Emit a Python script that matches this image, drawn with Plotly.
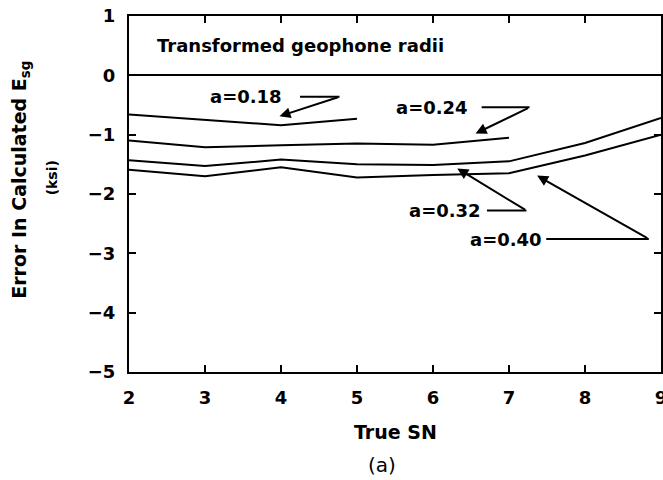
import plotly.graph_objects as go

# data
sn_018 = [2, 3, 4, 5]
err_018 = [-0.66, -0.75, -0.84, -0.73]

sn_024 = [2, 3, 4, 5, 6, 7]
err_024 = [-1.10, -1.21, -1.18, -1.15, -1.17, -1.05]

sn_032 = [2, 3, 4, 5, 6, 7, 8, 9]
err_032 = [-1.43, -1.53, -1.42, -1.50, -1.51, -1.45, -1.14, -0.72]

sn_040 = [2, 3, 4, 5, 6, 7, 8, 9]
err_040 = [-1.59, -1.70, -1.55, -1.72, -1.68, -1.65, -1.35, -1.00]

x_ticks = [2, 3, 4, 5, 6, 7, 8, 9]
y_ticks = [1, 0, -1, -2, -3, -4, -5]

FONT = "DejaVu Sans"
line_style = dict(color="black", width=2)

fig = go.Figure()
for xs, ys, name in [(sn_018, err_018, "a=0.18"), (sn_024, err_024, "a=0.24"),
                     (sn_032, err_032, "a=0.32"), (sn_040, err_040, "a=0.40")]:
    fig.add_trace(go.Scatter(x=xs, y=ys, mode="lines", name=name, line=line_style,
                             showlegend=False))

# labels with a short leader line and an arrow to the curve
labels = [
    # text, text x, text y, leader x0, leader x1, tip x, tip y
    ("a=0.18", 3.54, -0.36, 4.25, 4.77, 3.98, -0.69),
    ("a=0.24", 5.99, -0.54, 6.64, 7.27, 6.56, -0.98),
    ("a=0.32", 6.16, -2.28, 6.71, 7.23, 6.32, -1.57),
    ("a=0.40", 6.96, -2.76, 7.49, 8.84, 7.37, -1.69),
]
for txt, tx, ty, x0, x1, px, py in labels:
    fig.add_annotation(x=tx, y=ty, text=txt, showarrow=False,
                       font=dict(family=FONT, size=18, color="black", weight="bold"))
    fig.add_shape(type="line", x0=x0, x1=x1, y0=ty, y1=ty,
                  line=dict(color="black", width=2))
    fig.add_annotation(x=px, y=py, ax=x1, ay=ty, axref="x", ayref="y", text="",
                       showarrow=True, arrowhead=2, arrowsize=1.1, arrowwidth=2,
                       arrowcolor="black")

fig.add_annotation(x=2.34, y=0.51, text="Transformed geophone radii", showarrow=False,
                   xanchor="left",
                   font=dict(family=FONT, size=18, color="black", weight="bold"))

# axis titles
fig.add_annotation(xref="paper", yref="paper", x=-0.203, y=0.54, textangle=-90,
                   xanchor="center", yanchor="middle",
                   text="Error In Calculated E<sub>sg</sub>", showarrow=False,
                   font=dict(family=FONT, size=19, color="black", weight="bold"))
fig.add_annotation(xref="paper", yref="paper", x=-0.144, y=0.545, textangle=-90,
                   xanchor="center", yanchor="middle",
                   text="(ksi)", showarrow=False,
                   font=dict(family=FONT, size=14, color="black", weight="bold"))
fig.add_annotation(xref="paper", yref="paper", x=0.5, y=-0.169, text="True SN",
                   xanchor="center", yanchor="middle", showarrow=False,
                   font=dict(family=FONT, size=19, color="black", weight="bold"))
fig.add_annotation(xref="paper", yref="paper", x=0.475, y=-0.261, text="(a)",
                   xanchor="center", yanchor="middle", showarrow=False,
                   font=dict(family=FONT, size=20, color="black"))

axis_common = dict(showline=True, linecolor="black", linewidth=2, mirror="ticks",
                   ticks="inside", ticklen=7, tickwidth=2, tickcolor="black",
                   showgrid=False, automargin=False,
                   tickfont=dict(family=FONT, size=18, color="black", weight="bold"))
fig.update_xaxes(range=[2, 9], tickvals=x_ticks, ticklabelstandoff=8,
                 ticklabeloverflow="allow", **axis_common)
fig.update_yaxes(range=[-5, 1], tickvals=y_ticks, zeroline=True, zerolinecolor="black",
                 zerolinewidth=2, ticklabelstandoff=8, **axis_common)

fig.update_layout(width=663, height=480, plot_bgcolor="white", paper_bgcolor="white",
                  margin=dict(l=129, r=2, t=16, b=108))

# drop the page's default body margin so the figure sits at the window corner
fig.write_html("out.html", config={"displayModeBar": False},
               post_script="document.body.style.margin='0';")
